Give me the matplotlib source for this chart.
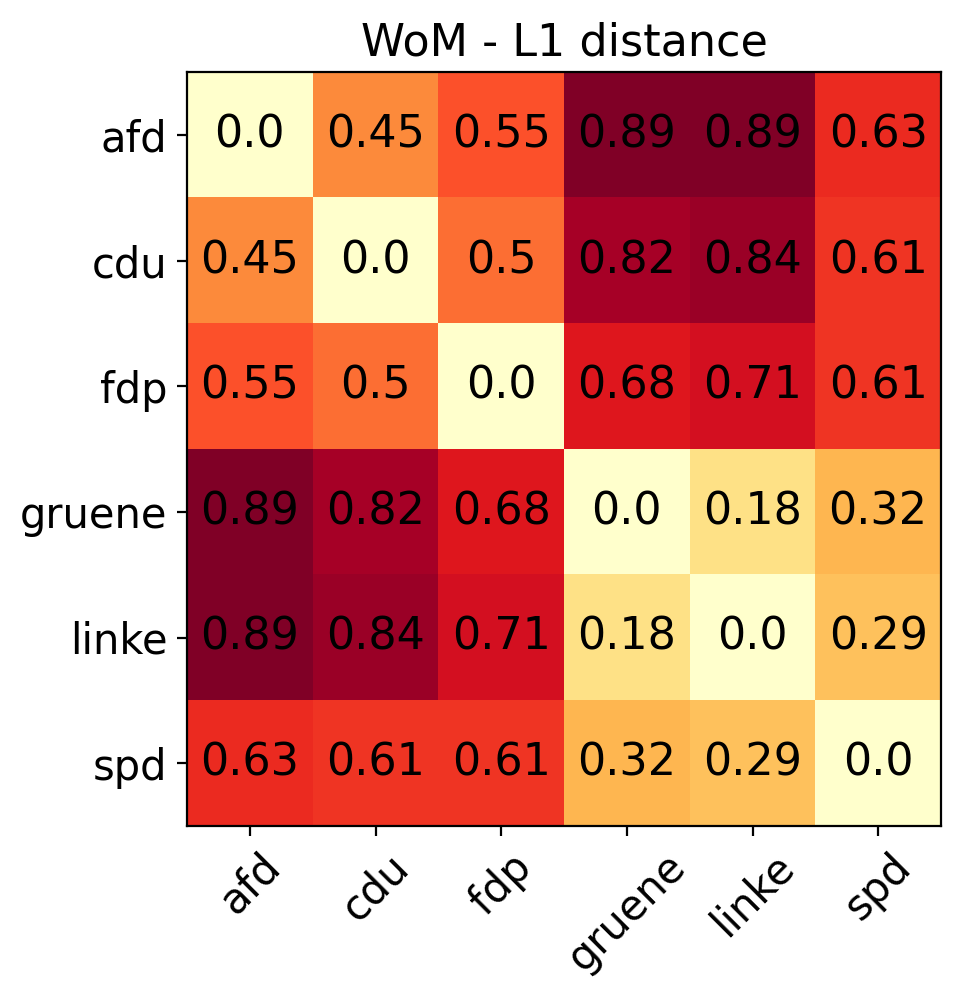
import matplotlib
matplotlib.use("Agg")
import matplotlib.pyplot as plt
import numpy as np

parties = ["afd", "cdu", "fdp", "gruene", "linke", "spd"]
dist = [
    [0.0, 0.45, 0.55, 0.89, 0.89, 0.63],
    [0.45, 0.0, 0.5, 0.82, 0.84, 0.61],
    [0.55, 0.5, 0.0, 0.68, 0.71, 0.61],
    [0.89, 0.82, 0.68, 0.0, 0.18, 0.32],
    [0.89, 0.84, 0.71, 0.18, 0.0, 0.29],
    [0.63, 0.61, 0.61, 0.32, 0.29, 0.0],
]
title = "WoM - L1 distance"

data = np.array(dist)
fig = plt.figure(figsize=(9.61 / 2, 9.99 / 2), dpi=200)
ax = fig.add_axes([187 / 961, 1 - 826 / 999, 754 / 961, 754 / 999])
ax.imshow(data, cmap="YlOrRd", aspect="auto")
fs = 16
tfs = 15
ax.set_xticks(range(len(parties)))
ax.set_yticks(range(len(parties)))
ax.set_xticklabels(parties, rotation=45, fontsize=tfs, ha="center", rotation_mode="default")
ax.set_yticklabels(parties, fontsize=tfs)
for i in range(len(parties)):
    for j in range(len(parties)):
        ax.text(j, i, str(dist[i][j]), ha="center", va="center", color="black", fontsize=fs)
ax.set_title(title, fontsize=fs)
fig.savefig("out.png", dpi=200)
